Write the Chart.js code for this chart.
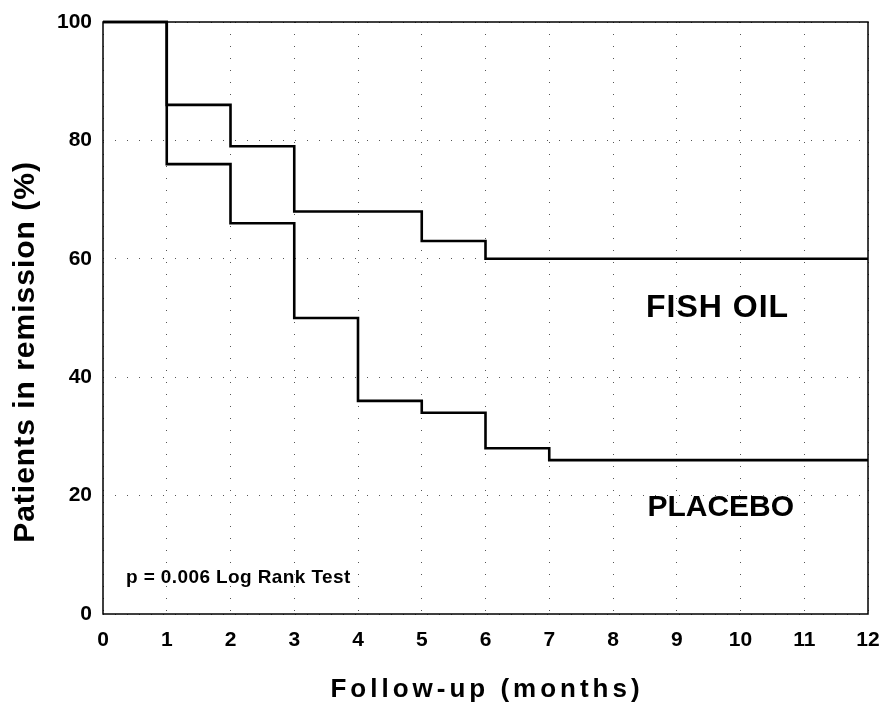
<!DOCTYPE html>
<html>
<head>
<meta charset="utf-8">
<script src="https://cdn.jsdelivr.net/npm/chart.js@4.4.1/dist/chart.umd.min.js"></script>
<style>
  html, body { margin: 0; background: #fff; }
  canvas { display: block; }
</style>
</head>
<body>
<canvas id="km" width="883" height="706"></canvas>
<script>
/* Kaplan-Meier: fish oil vs placebo, remission over 12 months */
const fishMonths = [0, 1, 2, 3, 5, 6, 12];
const fishOil    = [100, 86, 79, 68, 63, 60, 60];
const placeboMonths = [0, 1, 2, 3, 4, 5, 6, 7, 12];
const placebo       = [100, 76, 66, 50, 36, 34, 28, 26, 26];
const xTicks = [0, 1, 2, 3, 4, 5, 6, 7, 8, 9, 10, 11, 12];
const yTicks = [0, 20, 40, 60, 80, 100];

const FONT = "'Liberation Sans', Arial, sans-serif";
const pts = (xs, ys) => xs.map((m, i) => ({ x: m, y: ys[i] }));

const step = (label, data) => ({
  label, data, stepped: true, borderColor: "#000", borderWidth: 2.6,
  pointRadius: 0, fill: false, clip: 4,
});

/* frame, in-plot labels, axis titles */
const extras = {
  id: "extras",
  afterDraw(chart) {
    const { ctx, chartArea: a, scales: { x, y } } = chart;
    ctx.save();
    ctx.strokeStyle = "#000";
    ctx.lineWidth = 1.5;
    ctx.strokeRect(a.left, a.top, a.right - a.left, a.bottom - a.top);

    ctx.fillStyle = "#000";
    ctx.textBaseline = "middle";
    ctx.textAlign = "center";
    ctx.font = `bold 32px ${FONT}`;
    ctx.letterSpacing = "1px";
    ctx.fillText("FISH OIL", x.getPixelForValue(9.64), y.getPixelForValue(51.6));
    ctx.font = `bold 30px ${FONT}`;
    ctx.letterSpacing = "0px";
    ctx.fillText("PLACEBO", x.getPixelForValue(9.69), y.getPixelForValue(17.9));

    ctx.textAlign = "left";
    ctx.font = `bold 19px ${FONT}`;
    ctx.letterSpacing = "0.4px";
    ctx.fillText("p = 0.006 Log Rank Test", x.getPixelForValue(0.36), y.getPixelForValue(6.1));

    // axis titles
    ctx.textAlign = "center";
    ctx.textBaseline = "alphabetic";
    ctx.font = `bold 26px ${FONT}`;
    ctx.letterSpacing = "4px";
    ctx.fillText("Follow-up (months)", 487, 697);

    ctx.font = `bold 30px ${FONT}`;
    ctx.letterSpacing = "1px";
    ctx.translate(34, 352);
    ctx.rotate(-Math.PI / 2);
    ctx.fillText("Patients in remission (%)", 0, 0);
    ctx.restore();
  }
};

const gridOpts = { color: "#555", lineWidth: 1, drawTicks: false, borderDash: [1, 11] };

new Chart(document.getElementById("km"), {
  type: "line",
  data: {
    datasets: [
      step("Fish oil", pts(fishMonths, fishOil)),
      step("Placebo", pts(placeboMonths, placebo)),
    ]
  },
  options: {
    responsive: false,
    animation: false,
    layout: { padding: { left: 0, top: 22, right: 15, bottom: 0 } },
    plugins: { legend: { display: false }, tooltip: { enabled: false } },
    scales: {
      x: {
        type: "linear", min: 0, max: 12,
        afterBuildTicks: s => { s.ticks = xTicks.map(v => ({ value: v })); },
        afterFit: s => { s.height = 92; s.paddingLeft = 0; s.paddingRight = 0; },
        grid: gridOpts,
        border: { display: false, dash: [1, 11] },
        ticks: { color: "#000", padding: 14, font: { family: FONT, size: 21, weight: "bold" } },
      },
      y: {
        min: 0, max: 100,
        afterBuildTicks: s => { s.ticks = yTicks.map(v => ({ value: v })); },
        afterFit: s => { s.width = 103; s.paddingTop = 0; s.paddingBottom = 0; },
        grid: gridOpts,
        border: { display: false, dash: [1, 11] },
        ticks: { color: "#000", padding: 11, font: { family: FONT, size: 21, weight: "bold" } },
      },
    },
  },
  plugins: [extras],
});
</script>
</body>
</html>
